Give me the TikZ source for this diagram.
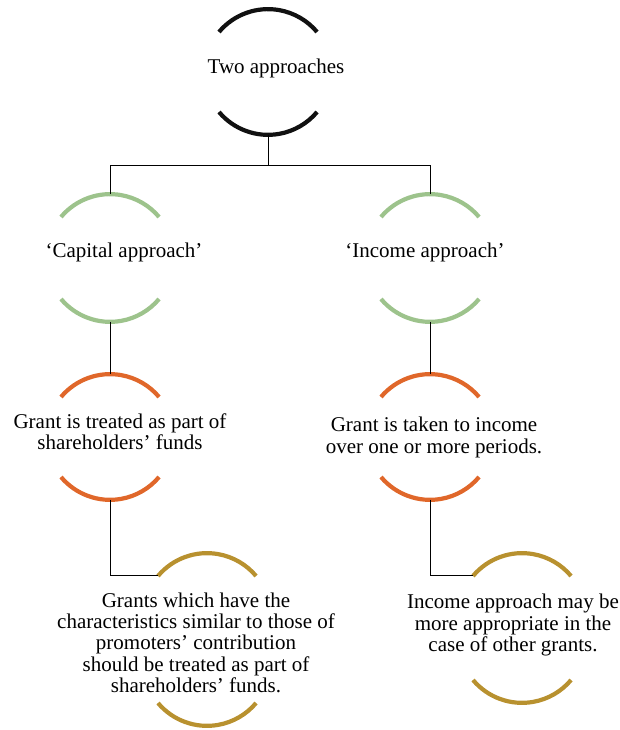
\documentclass[tikz,border=0pt]{standalone}
\usepackage{fontspec}
\setmainfont{Liberation Serif}
\usepackage{tikz}
\usetikzlibrary{positioning}
\usepackage{xcolor}
\definecolor{topblack}{HTML}{111111}
\definecolor{appgreen}{HTML}{9DC38C}
\definecolor{trtorange}{HTML}{E0672A}
\definecolor{notegold}{HTML}{B8912F}
\tikzset{
  arcline/.style ={line width=4.2pt, line cap=butt},
  link/.style    ={line width=1pt, draw=black},
  lbl/.style     ={align=center, inner sep=0pt,
                   font=\fontsize{21}{21.3}\selectfont},
  toparc/.pic    ={\draw[arcline] (-49,-23) coordinate (-left)
                     arc[start angle=140, end angle=40, radius=64pt];},
  botarc/.pic    ={\draw[arcline] (-49,23)
                     arc[start angle=220, end angle=320, radius=64pt];},
}
\begin{document}
\begin{tikzpicture}[x=1pt, y=1pt]
  \useasboundingbox (0,0) rectangle (619,730);
  % arc anchors
  \coordinate (two-t) at (268,721);
  \coordinate (two-b) at (268,595);
  \coordinate (cap-t) at (110,536);
  \coordinate (cap-b) at (110,408);
  \coordinate (inc-t) at (430,536);
  \coordinate (inc-b) at (430,408);
  \coordinate (capg-t) at (110,356);
  \coordinate (capg-b) at (110,230);
  \coordinate (incg-t) at (430,356);
  \coordinate (incg-b) at (430,230);
  \coordinate (capn-t) at (207,177);
  \coordinate (capn-b) at (207,4);
  \coordinate (incn-t) at (522,177);
  \coordinate (incn-b) at (522,27);

  % arcs
  \pic[topblack] at (two-t) {toparc};
  \pic[topblack] at (two-b) {botarc};
  \pic[appgreen] at (cap-t) {toparc};
  \pic[appgreen] at (cap-b) {botarc};
  \pic[appgreen] at (inc-t) {toparc};
  \pic[appgreen] at (inc-b) {botarc};
  \pic[trtorange] at (capg-t) {toparc};
  \pic[trtorange] at (capg-b) {botarc};
  \pic[trtorange] at (incg-t) {toparc};
  \pic[trtorange] at (incg-b) {botarc};
  \pic[notegold] (capnarc) at (capn-t) {toparc};
  \pic[notegold] at (capn-b) {botarc};
  \pic[notegold] (incnarc) at (incn-t) {toparc};
  \pic[notegold] at (incn-b) {botarc};

  % texts
  \node[lbl] (two) at (276,662) {Two approaches};
  \node[lbl] (capital) at (124,478) {‘Capital approach’};
  \node[lbl] (income) at (425,478) {‘Income approach’};
  \node[lbl] (capgrant) at (120,298.5)
    {Grant is treated as part of\\ shareholders’ funds};
  \node[lbl] (incgrant) at (434,292.5)
    {Grant is taken to income\\ over one or more periods.};
  \node[lbl] (capnote) at (196,87.4)
    {Grants which have the\\ characteristics similar to those of\\
     promoters’ contribution\\ should be treated as part of\\
     shareholders’ funds.};
  \node[lbl] (incnote) at (513,105)
    {Income approach may be\\ more appropriate in the\\
     case of other grants.};

  % connectors
  \coordinate (split) at (268,564);
  \draw[link] (two-b) -- (split) -| (cap-t);
  \draw[link] (split) -| (inc-t);
  \draw[link] (cap-b) -- (capg-t);
  \draw[link] (inc-b) -- (incg-t);
  \draw[link] (capg-b) |- (capnarc-left);
  \draw[link] (incg-b) |- (incnarc-left);
\end{tikzpicture}
\end{document}
